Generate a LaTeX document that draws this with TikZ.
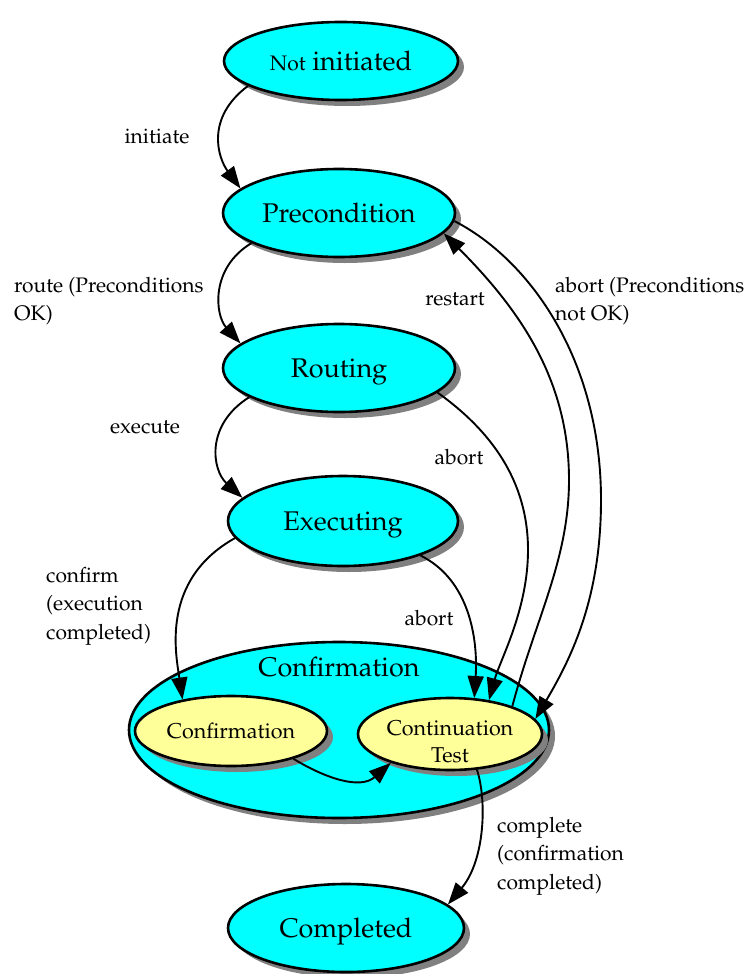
\documentclass[tikz,border=0pt]{standalone}
\usepackage[T1]{fontenc}
\usepackage{mathpazo}
\usetikzlibrary{arrows.meta,shapes.geometric,shadows}
\definecolor{stcyan}{RGB}{0,255,255}
\definecolor{styel}{RGB}{255,255,153}
\definecolor{shgray}{RGB}{128,128,128}
\begin{document}
\begin{tikzpicture}[x=1pt,y=-1pt,
  state/.style={ellipse,draw,line width=2.6pt,fill=stcyan,inner sep=0pt,
     drop shadow={shadow xshift=6pt,shadow yshift=-6pt,fill=shgray,opacity=1},
     font=\fontsize{27}{32}\selectfont,text height=19.5pt,text depth=0pt},
  sub/.style={state,fill=styel,font=\fontsize{21.5}{27}\selectfont,text height=15.5pt},
  sublbl/.style={font=\fontsize{21.5}{27}\selectfont,inner sep=0pt},
  biglbl/.style={font=\fontsize{27}{32}\selectfont,inner sep=0pt},
  lbl/.style={font=\fontsize{21}{28.5}\selectfont,inner sep=0pt},
  arr/.style={line width=1.9pt,-{Triangle[length=22pt,width=16pt]}}
]
\useasboundingbox (0,0) rectangle (753,974);

\node[state,minimum width=234pt,minimum height=78pt] (ni) at (341,61) {{\fontsize{21}{25}\selectfont Not} initiated};
\node[state,minimum width=232pt,minimum height=88pt] (pre) at (339,213) {Precondition};
\node[state,minimum width=232pt,minimum height=88pt] (rout) at (339,368) {Routing};
\node[state,minimum width=230pt,minimum height=90pt] (exe) at (343,521) {Executing};
\node[state,minimum width=420pt,minimum height=176pt,
      label={[biglbl,yshift=63pt]center:Confirmation}] (conf) at (339,730) {};
\node[sub,minimum width=192pt,minimum height=70pt] (ci) at (231,731) {Confirmation};
\node[sub,minimum width=184pt,minimum height=72pt,
      label={[sublbl,align=center,yshift=-8pt]center:Continuation\\Test}] (ct) at (450,734) {};
\node[state,minimum width=236pt,minimum height=88pt] (comp) at (346,928) {Completed};

\draw[arr] (ni.195) .. controls (205,118) and (218,158) .. (pre.166);
\draw[arr] (pre.199) .. controls (210,268) and (215,315) .. (rout.166);
\draw[arr] (rout.198) .. controls (205,425) and (212,470) .. (exe.167);
\draw[arr] (exe.189) .. controls (160,580) and (176,655) .. (ci.147);
\draw[arr] (exe.336) .. controls (470,580) and (478,640) .. (ct.56);
\draw[arr] (rout.346) .. controls (490,430) and (528,480) .. (528,550) .. controls (528,610) and (500,660) .. (ct.41);
\draw[arr] (ct.24) .. controls (535,620) and (569,560) .. (569,480) .. controls (569,380) and (520,310) .. (pre.349);
\draw[arr] (pre.356) .. controls (530,260) and (601,360) .. (601,500) .. controls (601,600) and (570,660) .. (ct.10);
\draw[arr] (ci.336) .. controls (325,778) and (360,790) .. (ct.206);
\draw[arr] (ct.307) .. controls (487,800) and (485,860) .. (comp.13);

\node[lbl] (lini) at (157,136) {initiate};
\node[lbl,align=left,anchor=west] (lroute) at (14,301) {route (Preconditions\\OK)};
\node[lbl] (lexe) at (145,427) {execute};
\node[lbl,align=left,anchor=west] (lconf) at (46,606) {confirm\\(execution\\completed)};
\node[lbl] (lab1) at (429,618) {abort};
\node[lbl] (lab2) at (459,457) {abort};
\node[lbl] (lres) at (455,299) {restart};
\node[lbl,align=left,anchor=west] (lab3) at (555,301) {abort (Preconditions\\not OK)};
\node[lbl,align=left,anchor=west] (lcomp) at (497,856) {complete\\(confirmation\\completed)};
\end{tikzpicture}
\end{document}
